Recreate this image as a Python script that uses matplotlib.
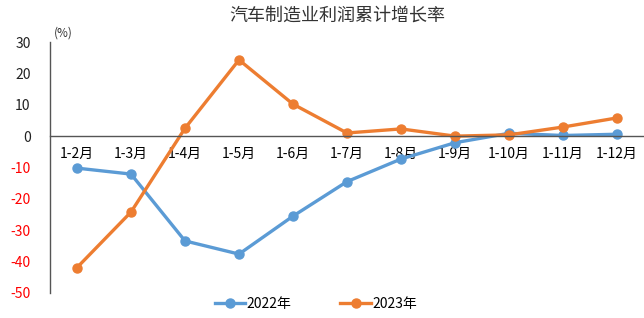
import matplotlib.pyplot as plt
from matplotlib.lines import Line2D

plt.rcParams['font.family'] = ['Noto Sans CJK SC', 'DejaVu Sans']

# data
months = ["1-2月", "1-3月", "1-4月", "1-5月", "1-6月", "1-7月",
          "1-8月", "1-9月", "1-10月", "1-11月", "1-12月"]
y2022 = [-10.2, -12.1, -33.4, -37.6, -25.5, -14.5, -7.3, -2.1, 0.9, 0.2, 0.6]
y2023 = [-41.9, -24.2, 2.5, 24.3, 10.2, 1.0, 2.3, 0.0, 0.4, 2.9, 5.8]
yticks = [30, 20, 10, 0, -10, -20, -30, -40, -50]

blue = "#5B9BD5"
orange = "#ED7D31"

fig = plt.figure(figsize=(6.44, 3.18), dpi=100)
ax = fig.add_axes([50 / 644, 1 - 293 / 318, 594 / 644, 251 / 318])

x = list(range(len(months)))
ax.plot(x, y2022, color=blue, lw=2.4, marker="o", markersize=6.5, label="2022年")
ax.plot(x, y2023, color=orange, lw=2.4, marker="o", markersize=6.5, label="2023年")

ax.set_xlim(-0.5, len(months) - 0.5)
ax.set_ylim(-50, 30)

for s in ["top", "right"]:
    ax.spines[s].set_visible(False)
ax.spines["bottom"].set_position(("data", 0))
ax.spines["bottom"].set_color("#555555")
ax.spines["left"].set_color("#555555")
ax.spines["bottom"].set_linewidth(1.0)
ax.spines["left"].set_linewidth(1.0)

ax.set_xticks(x)
ax.set_xticklabels(months, fontsize=10)
ax.tick_params(axis="x", length=0, pad=8)
ax.set_yticks(yticks)
ax.set_yticklabels([str(v) for v in yticks], fontsize=10)
ax.tick_params(axis="y", length=0, pad=14)
for lbl, v in zip(ax.get_yticklabels(), yticks):
    lbl.set_color("#FF0000" if v < 0 else "#222222")

fig.text(337 / 644, 1 - 16 / 318, "汽车制造业利润累计增长率", ha="center", va="center",
         fontsize=13, color="#333333")
fig.text(54 / 644, 1 - 33 / 318, "(%)", ha="left", va="center", fontsize=8.5, color="#333333")

handles = [Line2D([], [], color=blue, lw=2.4, marker="o", markersize=6.5),
           Line2D([], [], color=orange, lw=2.4, marker="o", markersize=6.5)]
fig.legend(handles, ["2022年", "2023年"], loc="center", ncols=2, frameon=False,
           bbox_to_anchor=(316 / 644, 1 - 304 / 318), fontsize=10,
           handlelength=2.2, handletextpad=0.1, columnspacing=3.5)

fig.savefig("out.png", dpi=100)
